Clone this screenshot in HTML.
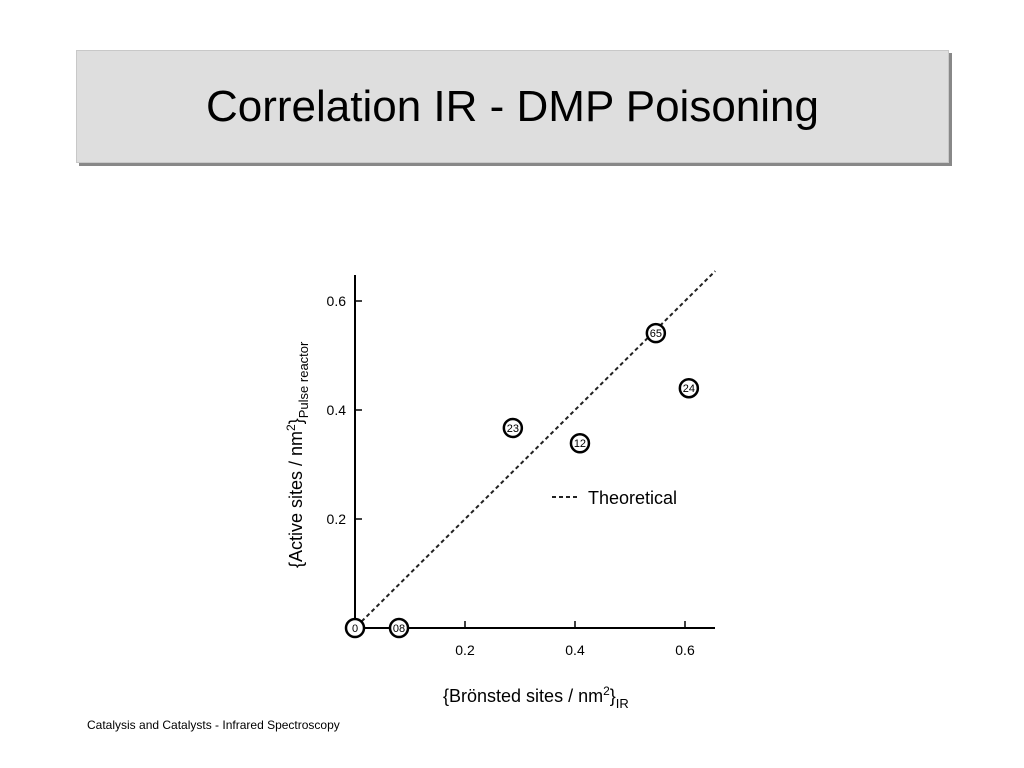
<!DOCTYPE html>
<html><head><meta charset="utf-8"><style>
body{margin:0;width:1024px;height:768px;background:#fff;position:relative;overflow:hidden;font-family:"Liberation Sans",sans-serif}
#title{position:absolute;left:76px;top:50px;width:871px;height:111px;background:#dedede;border:1px solid #c8c8c8;box-shadow:3px 3px 0 #888;display:flex;align-items:center;justify-content:center;font-size:44px;color:#000}
#footer{position:absolute;left:87px;top:718px;font-size:12px}
</style></head><body>
<div id="title">Correlation IR - DMP Poisoning</div>
<svg id="chart" width="1024" height="768" style="position:absolute;left:0;top:0" font-family="Liberation Sans, sans-serif"></svg>
<div id="footer">Catalysis and Catalysts - Infrared Spectroscopy</div>
<script>
const labels=["0","08","23","12","65","24"];
const xVals=[0,0.08,0.287,0.409,0.547,0.607];
const yVals=[0,0,0.367,0.339,0.541,0.44];
const xTicks=[0.2,0.4,0.6];
const yTicks=[0.2,0.4,0.6];
const lineX=[0.012,0.655];
const NS="http://www.w3.org/2000/svg";
const svg=document.getElementById('chart');
const X=v=>355+v*550, Y=v=>628-v*545;
function mk(t,a,p){const e=document.createElementNS(NS,t);for(const k in a)e.setAttribute(k,a[k]);(p||svg).appendChild(e);return e;}
let e;
e=mk('line',{x1:355,y1:275,x2:355,y2:628,stroke:'#000','stroke-width':2});


e=mk('line',{x1:355,y1:628,x2:715,y2:628,stroke:'#000','stroke-width':2});


xTicks.forEach(t=>{
 e=mk('line',{x1:X(t),y1:628,x2:X(t),y2:621,stroke:'#000','stroke-width':1.5});
 
 
 e=mk('text',{x:X(t),y:655,'font-size':14,'text-anchor':'middle'});e.textContent=t.toFixed(1);
 
 
});
yTicks.forEach(t=>{
 e=mk('line',{x1:355,y1:Y(t),x2:362,y2:Y(t),stroke:'#000','stroke-width':1.5});
 
 
 e=mk('text',{x:346,y:Y(t)+5,'font-size':14,'text-anchor':'end'});e.textContent=t.toFixed(1);
 
 
});
e=mk('line',{x1:X(lineX[0]),y1:Y(lineX[0]),x2:X(lineX[1]),y2:Y(lineX[1]),stroke:'#222','stroke-width':2,'stroke-dasharray':'4,3'});


labels.forEach((l,i)=>{
 const g=mk('g',{});
 
 
 mk('circle',{cx:X(xVals[i]),cy:Y(yVals[i]),r:9,fill:'#fff',stroke:'#000','stroke-width':2.5},g);
 const t=mk('text',{x:X(xVals[i]),y:Y(yVals[i])+4,'font-size':11,'text-anchor':'middle'},g);t.textContent=l;
});
e=mk('line',{x1:552,y1:497,x2:578,y2:497,stroke:'#222','stroke-width':2,'stroke-dasharray':'4,3'});


e=mk('text',{x:588,y:504,'font-size':18});e.textContent='Theoretical';


e=mk('text',{x:443,y:702,'font-size':18});
e.innerHTML='{Brönsted sites / nm<tspan dy="-7" font-size="12">2</tspan><tspan dy="7">}</tspan><tspan dy="6" font-size="13">IR</tspan>';


e=mk('text',{x:0,y:0,'font-size':18,transform:'translate(302,568) rotate(-90)'});
e.innerHTML='{Active sites / nm<tspan dy="-7" font-size="12">2</tspan><tspan dy="7">}</tspan><tspan dy="6" font-size="13">Pulse reactor</tspan>';


</script>
</body></html>
